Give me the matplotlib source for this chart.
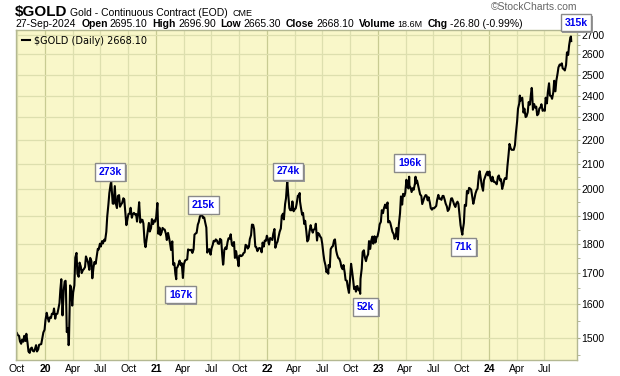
import pandas as pd
import matplotlib
matplotlib.use("Agg")
import matplotlib.pyplot as plt
import matplotlib.patheffects as pe

# $GOLD continuous contract
# Friday closes
fri_2019 = [1507, 1489, 1494, 1505, 1511, 1460, 1468, 1462, 1466, 1460, 1479, 1481, 1515]
fri_2020 = [1552, 1560, 1560, 1571, 1587,
            1570, 1584, 1648, 1566,
            1672, 1516, 1484, 1654,
            1637, 1752, 1698, 1735,
            1700, 1713, 1756, 1735, 1751,
            1683, 1737, 1753, 1780,
            1790, 1801, 1810, 1897, 1986,
            2015, 1945, 1947, 1975,
            1934, 1948, 1962, 1866,
            1907, 1930, 1906, 1905, 1879,
            1951, 1886, 1872, 1788,
            1840, 1843, 1888, 1883]
fri_2021 = [1895, 1835, 1830, 1856, 1850,
            1813, 1823, 1778, 1728,
            1698, 1720, 1742, 1733,
            1729, 1744, 1780, 1777, 1768,
            1832, 1838, 1877, 1902,
            1892, 1877, 1769, 1781,
            1783, 1810, 1815, 1801, 1817,
            1763, 1778, 1781, 1819,
            1833, 1792, 1751, 1751,
            1758, 1757, 1767, 1796, 1783,
            1816, 1868, 1852, 1788,
            1783, 1783, 1804, 1811, 1828]
fri_2022 = [1797, 1817, 1835, 1786,
            1807, 1842, 1900, 1887,
            1966, 1985, 1921, 1954,
            1923, 1945, 1974, 1931, 1911,
            1882, 1808, 1842, 1851,
            1850, 1871, 1838, 1826,
            1801, 1742, 1703, 1727, 1781,
            1791, 1815, 1762, 1749,
            1721, 1727, 1677, 1655, 1672,
            1709, 1648, 1656, 1644,
            1681, 1771, 1754, 1754,
            1809, 1810, 1800, 1804, 1826]
fri_2023 = [1869, 1921, 1928, 1929,
            1876, 1874, 1842, 1817,
            1856, 1867, 1973, 1983, 1986,
            2011, 2015, 1990, 1999,
            2024, 2019, 1981, 1944,
            1969, 1977, 1970, 1929, 1929,
            1932, 1960, 1964, 1960,
            1975, 1946, 1918, 1940,
            1966, 1942, 1946, 1945, 1866,
            1845, 1941, 1994, 2006,
            1999, 1945, 1984, 2003,
            2072, 2014, 2036, 2060, 2055]
fri_2024 = [2045, 2050, 2030, 2020,
            2055, 2040, 2015, 2045,
            2090, 2185, 2160, 2160, 2230,
            2340, 2374, 2390, 2340,
            2305, 2370, 2400, 2335, 2345,
            2310, 2340, 2360, 2335,
            2390, 2415, 2400, 2385,
            2470, 2470, 2535, 2545, 2530,
            2520, 2610, 2645, 2668]

# Tuesday closes
tue_2019 = [1513, 1505, 1482, 1488, 1490, 1484, 1456, 1471, 1460, 1478, 1466, 1480, 1500]
tue_2020 = [1523, 1574, 1547, 1558, 1570,
            1556, 1571, 1604, 1650,
            1644, 1660, 1527, 1660,
            1596, 1660, 1768, 1688,
            1722, 1710, 1720, 1745, 1711,
            1740, 1720, 1731, 1782,
            1800, 1809, 1814, 1842, 1944,
            2019, 1946, 2013, 1929,
            1978, 1943, 1966, 1907,
            1891, 1908, 1893, 1911, 1907,
            1910, 1875, 1885, 1805,
            1818, 1874, 1855, 1870]
tue_2021 = [1879, 1948, 1857, 1840, 1851,
            1835, 1838, 1799, 1808,
            1733, 1716, 1731, 1726,
            1684, 1742, 1746, 1778, 1779,
            1780, 1836, 1868, 1898,
            1904, 1894, 1857, 1779,
            1762, 1796, 1808, 1811, 1799,
            1813, 1731, 1787, 1807,
            1818, 1797, 1806, 1774,
            1737, 1760, 1760, 1770, 1793,
            1789, 1830, 1867, 1790,
            1774, 1785, 1770, 1790, 1810]
tue_2022 = [1814, 1820, 1813, 1852,
            1801, 1828, 1854, 1908,
            1944, 2033, 1929, 1921,
            1917, 1928, 1976, 1954, 1904,
            1870, 1842, 1815, 1866,
            1839, 1852, 1811, 1834,
            1820, 1764, 1725, 1711, 1719,
            1789, 1812, 1776, 1750,
            1737, 1713, 1702, 1675, 1636,
            1731, 1676, 1655, 1658,
            1649, 1715, 1777, 1740,
            1763, 1782, 1825, 1826, 1823]
tue_2023 = [1846, 1878, 1910, 1942,
            1945, 1881, 1855, 1834,
            1827, 1815, 1910, 1942, 1974,
            2038, 2004, 2006, 2005,
            2023, 2035, 1996, 1975,
            1959, 1978, 1958, 1950, 1923,
            1928, 1937, 1979, 1965,
            1975, 1960, 1935, 1924,
            1965, 1953, 1933, 1953, 1901,
            1841, 1874, 1937, 1985,
            2003, 1969, 1966, 1998,
            2055, 2040, 1995, 2050, 2070]
tue_2024 = [2071, 2032, 2030, 2025,
            2050, 2035, 2002, 2039,
            2041, 2141, 2166, 2160, 2180,
            2282, 2363, 2385, 2322,
            2302, 2324, 2358, 2425, 2361,
            2349, 2316, 2346, 2330,
            2330, 2364, 2458, 2397,
            2415, 2420, 2504, 2549, 2555,
            2526, 2547, 2597, 2685]

# other highs / lows the two weekly samples miss
extra_dates = ["2020-02-24", "2020-03-09", "2020-03-19", "2020-08-06", "2021-03-08",
               "2021-08-09", "2021-09-29", "2022-04-18", "2022-07-21", "2022-10-20",
               "2022-11-03", "2023-02-01", "2023-04-13", "2023-05-04", "2023-10-05",
               "2024-02-14", "2024-04-11", "2024-05-20", "2024-09-26"]
extra_vals = [1680, 1675, 1478, 2030, 1680,
              1728, 1723, 1986, 1698, 1640,
              1633, 1950, 2050, 2050, 1832,
              2008, 2400, 2436, 2692]

vol_labels = ["273k", "215k", "167k", "274k", "52k", "196k", "71k", "315k"]

fri = pd.Series(fri_2019 + fri_2020 + fri_2021 + fri_2022 + fri_2023 + fri_2024,
                index=pd.date_range("2019-10-04", "2024-09-27", freq="W-FRI"))
tue = pd.Series(tue_2019 + tue_2020 + tue_2021 + tue_2022 + tue_2023 + tue_2024,
                index=pd.date_range("2019-10-01", "2024-09-24", freq="W-TUE"))
gold = pd.concat([fri, tue, pd.Series(extra_vals, index=pd.to_datetime(extra_dates))]).sort_index()

W, H = 620, 376
fig = plt.figure(figsize=(W / 100, H / 100), dpi=100)
ax = fig.add_axes([16 / W, 16 / H, 561 / W, 330 / H])
ax.set_facecolor("#F9F7C9")

ax.plot(gold.index, gold.values, color="black", lw=1.5, label=r"\$GOLD (Daily) 2668.10")

ax.set_yscale("log")
ax.set_ylim(1436, 2726)
ax.set_xlim(pd.Timestamp("2019-09-28"), pd.Timestamp("2024-10-16"))

yt = list(range(1500, 2800, 100))
ax.set_yticks(yt)
ax.set_yticklabels([str(v) for v in yt])
ax.set_yticks(list(range(1450, 2750, 50)), minor=True)
ax.yaxis.set_minor_formatter(plt.NullFormatter())
ax.yaxis.tick_right()
ax.tick_params(axis="y", which="both", direction="out", length=2, color="#A8AC88",
               labelsize=7.5, pad=1)

# quarterly grid, year lines a little darker
qs = pd.date_range("2019-10-01", "2024-07-01", freq="QS")
xlabs = [str(d.year)[2:] if d.month == 1 else d.strftime("%b") for d in qs]
ax.set_xticks(qs)
ax.set_xticklabels(xlabs)
for d, t in zip(qs, ax.get_xticklabels()):
    if d.month == 1:
        t.set_fontweight("bold")
ax.tick_params(axis="x", length=0, labelsize=7.5, pad=3)
for d in qs:
    ax.axvline(d, color="#C8CB92" if d.month == 1 else "#DDDFAE", lw=0.9, zorder=0)
for v in yt:
    ax.axhline(v, color="#DDDFAE", lw=0.9, zorder=0)

for s in ax.spines.values():
    s.set_color("#B4B892")
    s.set_linewidth(1)

for t in ax.get_xticklabels() + ax.get_yticklabels():
    t.set_fontfamily(["Liberation Sans", "DejaVu Sans"])

ax.legend(loc="upper left", frameon=False, handlelength=0.8, handletextpad=0.4,
          borderaxespad=0.2, prop={"family": "DejaVu Sans", "size": 7})

# volume call-outs, boxes with a small drop shadow
box_xy = [(110, 172), (203.5, 205), (180.5, 294.5), (288, 171.5),
          (365.5, 307), (409.5, 163), (463.5, 247), (576, 22.5)]
for lab, (bx, by) in zip(vol_labels, box_xy):
    t = fig.text(bx / W, 1 - by / H, lab, ha="center", va="center", color="#0000EE",
                 fontsize=7.5, fontweight="bold", family=["Liberation Sans", "DejaVu Sans"],
                 bbox=dict(boxstyle="square,pad=0.35", fc="white", ec="#8A8A8A", lw=1), zorder=5)
    t.get_bbox_patch().set_path_effects([
        pe.SimplePatchShadow(offset=(1.2, -1.2), shadow_rgbFace="#9A9A9A", alpha=1),
        pe.Normal()])

# header
r = fig.canvas.get_renderer()
sans = ["Liberation Sans", "DejaVu Sans"]


def run_text(x, y, parts):
    for s, wt, size, gap, fam in parts:
        t = fig.text(x / W, 1 - y / H, s, fontsize=size, fontweight=wt, va="baseline",
                     family=fam, zorder=1)
        x += t.get_window_extent(renderer=r).width + gap


run_text(15, 16, [(r"\$GOLD", "bold", 11, 3, ["Liberation Sans Narrow", "Liberation Sans"]),
                  ("Gold - Continuous Contract (EOD)", "normal", 7.5, 4, sans),
                  ("CME", "normal", 6.5, 0, sans)])
fig.text(577 / W, 1 - 10 / H, "\u00a9StockCharts.com", ha="right", va="baseline",
         fontsize=7.5, color="#666666", family=sans)
run_text(15, 27, [("27-Sep-2024", "normal", 7.5, 6, sans), ("Open", "bold", 7.5, 2, sans),
                  ("2695.10", "normal", 7.5, 5, sans), ("High", "bold", 7.5, 2, sans),
                  ("2696.90", "normal", 7.5, 5, sans), ("Low", "bold", 7.5, 2, sans),
                  ("2665.30", "normal", 7.5, 5, sans), ("Close", "bold", 7.5, 2, sans),
                  ("2668.10", "normal", 7.5, 5, sans), ("Volume", "bold", 7.5, 2, sans),
                  ("18.6M", "normal", 6.5, 5, sans), ("Chg", "bold", 7.5, 2, sans),
                  ("-26.80 (-0.99%)", "normal", 7.5, 0, sans)])

fig.savefig("out.png", dpi=100)
